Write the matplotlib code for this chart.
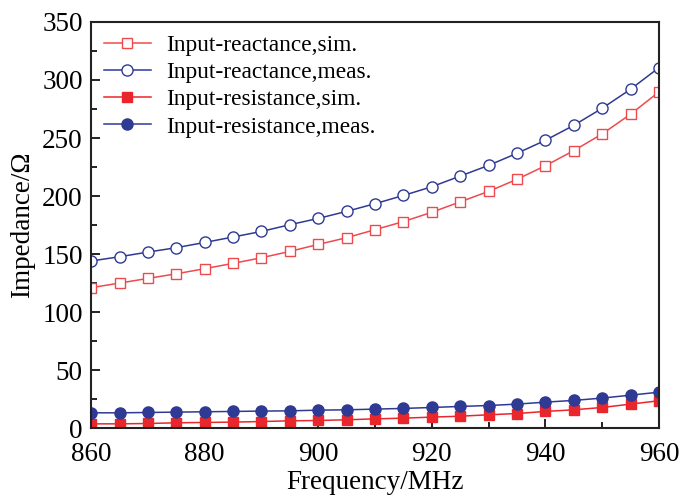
import matplotlib
matplotlib.use("Agg")
import matplotlib.pyplot as plt
from matplotlib.ticker import MultipleLocator

freq = list(range(860, 961, 5))

react_sim = [121, 125, 129, 133, 137.4, 142, 146.8, 152.3, 158.3, 164.1, 171,
             178, 186, 195, 204, 214.4, 226.1, 239.1, 253.5, 270.5, 289.7]
react_meas = [144, 147.7, 151.7, 155.5, 160, 164.7, 169.5, 175.3, 180.7, 186.8, 193.4,
              200.5, 208, 217.2, 226.4, 236.8, 248, 260.9, 275.6, 292, 310.6]
resist_sim = [3.7, 3.7, 4.0, 4.6, 4.9, 5.2, 5.7, 6.3, 6.6, 7.2, 8.0,
              8.6, 9.5, 10.3, 11.5, 12.6, 14.4, 15.8, 17.8, 20.7, 23.6]
resist_meas = [13.2, 13.2, 13.5, 13.8, 14.1, 14.4, 14.7, 14.9, 15.5, 15.8, 16.4,
               17.0, 17.8, 18.7, 19.5, 20.7, 22.4, 23.9, 25.9, 28.4, 31.0]

RED = "#E8262B"
RED_LIGHT = "#EE4A4E"
BLUE = "#2E3A93"

plt.rcParams["font.family"] = ["Liberation Serif", "DejaVu Serif"]

fig = plt.figure(figsize=(6.8, 4.99), dpi=100)
ax = fig.add_axes([0.134, 0.142, 0.835, 0.814])

ax.plot(freq, react_sim, color=RED_LIGHT, lw=1.1, marker="s", ms=7,
        mfc="white", mec=RED_LIGHT, mew=1.0, label="Input-reactance,sim.")
ax.plot(freq, react_meas, color=BLUE, lw=1.1, marker="o", ms=8,
        mfc="white", mec=BLUE, mew=1.0, label="Input-reactance,meas.")
ax.plot(freq, resist_sim, color=RED, lw=1.1, marker="s", ms=7,
        mfc=RED, mec=RED, label="Input-resistance,sim.")
ax.plot(freq, resist_meas, color=BLUE, lw=1.1, marker="o", ms=8,
        mfc=BLUE, mec=BLUE, label="Input-resistance,meas.")

ax.set_xlim(860, 960)
ax.set_ylim(0, 350)
ax.xaxis.set_major_locator(MultipleLocator(20))
ax.xaxis.set_minor_locator(MultipleLocator(10))
ax.yaxis.set_major_locator(MultipleLocator(50))
ax.yaxis.set_minor_locator(MultipleLocator(25))
ax.tick_params(which="both", direction="in", labelsize=19.5, width=1.4,
               color="#222222")
ax.tick_params(which="major", length=6.5)
ax.tick_params(which="minor", length=4)
ax.tick_params(axis="y", pad=6)
ax.tick_params(axis="x", pad=10)
for s in ax.spines.values():
    s.set_linewidth(1.5)
    s.set_color("#222222")

ax.set_xlabel("Frequency/MHz", fontsize=19.5, labelpad=2)
ax.set_ylabel("Impedance/Ω", fontsize=19.5, labelpad=5)

ax.legend(loc="upper left", frameon=False, fontsize=16.8, handlelength=2.0,
          handletextpad=0.65, labelspacing=0.25, borderpad=0.1,
          borderaxespad=0.45)

fig.savefig("out.png", dpi=100)
